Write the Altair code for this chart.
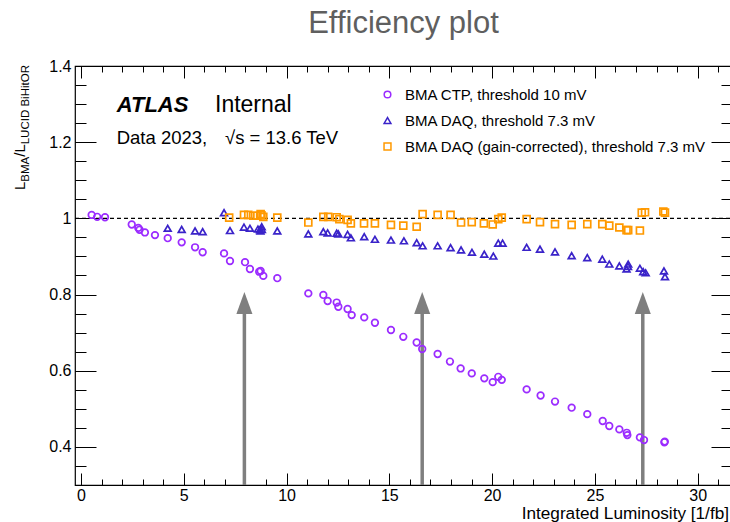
import altair as alt
import pandas as pd

# ---------------- data ----------------
series_names = [
    "BMA CTP, threshold 10 mV",
    "BMA DAQ, threshold 7.3 mV",
    "BMA DAQ (gain-corrected), threshold 7.3 mV",
]
series_colors = ["#9b2cff", "#3a23c9", "#ff9900"]
series_shapes = ["circle", "triangle-up", "square"]
series_sizes = [44, 48, 48]

ctp_x = [0.52, 0.79, 1.17, 2.47, 2.79, 2.85, 3.11, 3.60, 4.22, 4.90, 5.55, 5.92,
         6.96, 7.25, 7.98, 8.22, 8.67, 8.74, 8.87, 9.55, 11.06, 11.79, 12.00,
         12.44, 12.52, 12.97, 13.17, 13.78, 14.30, 15.08, 15.68, 16.33, 16.60,
         17.35, 17.95, 18.47, 19.01, 19.62, 20.03, 20.30, 20.47, 21.68, 22.36,
         23.06, 23.87, 24.63, 25.38, 25.70, 26.19, 26.55, 26.58, 27.19, 27.39,
         28.38, 28.40]
ctp_y = [1.009, 1.004, 1.003, 0.984, 0.975, 0.970, 0.963, 0.956, 0.948, 0.937,
         0.924, 0.911, 0.908, 0.888, 0.885, 0.867, 0.860, 0.862, 0.849, 0.843,
         0.803, 0.799, 0.783, 0.779, 0.768, 0.762, 0.746, 0.740, 0.726, 0.707,
         0.689, 0.674, 0.657, 0.644, 0.624, 0.606, 0.593, 0.580, 0.570, 0.584,
         0.576, 0.551, 0.535, 0.519, 0.503, 0.486, 0.468, 0.455, 0.446, 0.437,
         0.431, 0.425, 0.418, 0.412, 0.414]

daq_x = [4.22, 4.90, 5.55, 5.92, 6.96, 7.25, 7.93, 8.22, 8.61, 8.71, 8.79, 8.80,
         8.73, 9.55, 11.06, 11.79, 12.00, 12.44, 12.52, 12.97, 13.13, 13.78,
         14.30, 15.08, 15.71, 16.33, 16.62, 17.35, 17.98, 18.49, 19.02, 19.62,
         20.06, 20.30, 20.51, 21.68, 22.33, 23.06, 23.87, 24.63, 25.36, 25.70,
         26.19, 26.54, 26.62, 26.61, 27.19, 27.35, 27.47, 28.36, 28.41]
daq_y = [0.974, 0.971, 0.967, 0.965, 1.015, 0.968, 0.977, 0.974, 0.972, 0.970,
         0.978, 0.971, 0.967, 0.967, 0.959, 0.965, 0.962, 0.961, 0.959, 0.958,
         0.949, 0.952, 0.945, 0.943, 0.941, 0.936, 0.928, 0.928, 0.923, 0.917,
         0.911, 0.906, 0.901, 0.935, 0.935, 0.924, 0.919, 0.912, 0.902, 0.897,
         0.893, 0.880, 0.875, 0.867, 0.880, 0.874, 0.869, 0.860, 0.857, 0.862,
         0.847]

gc_x = [7.21, 7.93, 8.14, 8.38, 8.58, 8.74, 8.78, 8.87, 9.55, 11.06, 11.79,
        12.03, 12.44, 12.57, 12.97, 13.13, 13.77, 14.30, 15.08, 15.68, 16.33,
        16.62, 17.35, 17.98, 18.49, 19.01, 19.60, 20.03, 20.30, 20.47, 21.68,
        22.33, 23.06, 23.87, 24.63, 25.36, 25.70, 26.19, 26.54, 26.62, 27.19,
        27.28, 27.44, 28.33, 28.41]
gc_y = [1.002, 1.009, 1.009, 1.007, 1.007, 1.011, 1.008, 1.004, 1.002, 0.989,
        1.004, 1.004, 1.003, 0.998, 0.996, 0.987, 0.987, 0.987, 0.983, 0.981,
        0.978, 1.011, 1.009, 1.009, 0.989, 0.990, 0.987, 0.984, 0.998, 1.002,
        0.998, 0.990, 0.985, 0.983, 0.985, 0.985, 0.981, 0.976, 0.969, 0.969,
        0.968, 1.015, 1.016, 1.018, 1.015]

arrow_x = [7.95, 16.6, 27.33]
arrow_tip = 0.807
arrow_base = 0.76
y_floor = 0.3

x_domain = [-0.29, 31.67]
y_domain = [0.3, 1.4]
x_major = [0, 5, 10, 15, 20, 25, 30]
x_minor = list(range(0, 32))
y_major = [0.4, 0.6, 0.8, 1.0, 1.2, 1.4]
y_minor = [0.35, 0.4, 0.45, 0.5, 0.55, 0.6, 0.65, 0.7, 0.75, 0.8, 0.85, 0.9,
           0.95, 1.0, 1.05, 1.1, 1.15, 1.2, 1.25, 1.3, 1.35]

# ---------------- layout constants ----------------
W, H = 657, 419
FONT = "Liberation Sans"

df = pd.concat([
    pd.DataFrame({"lumi": ctp_x, "ratio": ctp_y, "series": series_names[0]}),
    pd.DataFrame({"lumi": daq_x, "ratio": daq_y, "series": series_names[1]}),
    pd.DataFrame({"lumi": gc_x, "ratio": gc_y, "series": series_names[2]}),
], ignore_index=True)

arrows = pd.DataFrame({"lumi": arrow_x,
                       "lo": [y_floor] * len(arrow_x),
                       "hi": [arrow_base] * len(arrow_x),
                       "tip": [arrow_tip] * len(arrow_x)})

xs = alt.Scale(domain=x_domain, nice=False, zero=False)
ys = alt.Scale(domain=y_domain, nice=False, zero=False)


def ax(orient, values, size, labels=False, **kw):
    return alt.Axis(orient=orient, values=values, tickSize=size, offset=-size,
                    domain=False, grid=False, labels=labels, title=None,
                    tickColor="black", tickWidth=1, **kw)


lab = dict(labelFont=FONT, labelFontSize=16, labelColor="black",
           labelFlush=False, labelOverlap=False)

legend = alt.Legend(title=None, orient="none", legendX=305, legendY=21,
                    labelFont=FONT, labelFontSize=15, labelColor="black",
                    symbolSize=26, symbolStrokeWidth=1.5, rowPadding=10,
                    labelOffset=10, padding=0, labelLimit=0)

points = alt.Chart(df).mark_point(filled=False, strokeWidth=1.7, opacity=1).encode(
    x=alt.X("lumi:Q", scale=xs,
            axis=ax("bottom", x_major, 12, labels=True, labelPadding=2, **lab)),
    y=alt.Y("ratio:Q", scale=ys,
            axis=ax("left", y_major, 21, labels=True, format="~g", labelPadding=4, **lab)),
    color=alt.Color("series:N", scale=alt.Scale(domain=series_names, range=series_colors),
                    legend=legend),
    shape=alt.Shape("series:N", scale=alt.Scale(domain=series_names, range=series_shapes),
                    legend=legend),
    size=alt.Size("series:N", scale=alt.Scale(domain=series_names, range=series_sizes),
                  legend=None),
)

ghost = alt.Chart(df).mark_point(opacity=0)
minor_bl = ghost.encode(x=alt.X("lumi:Q", scale=xs, axis=ax("bottom", x_minor, 6)),
                        y=alt.Y("ratio:Q", scale=ys, axis=ax("left", y_minor, 11)))
major_tr = ghost.encode(x=alt.X("lumi:Q", scale=xs, axis=ax("top", x_major, 12)),
                        y=alt.Y("ratio:Q", scale=ys, axis=ax("right", y_major, 21)))
minor_tr = ghost.encode(x=alt.X("lumi:Q", scale=xs, axis=ax("top", x_minor, 6)),
                        y=alt.Y("ratio:Q", scale=ys, axis=ax("right", y_minor, 11)))

unity = alt.Chart(alt.Data(values=[{}])).mark_rule(
    color="black", strokeWidth=1.4, strokeDash=[4, 3]).encode(
    x=alt.value(0), x2=alt.value(W), y=alt.Y(datum=1.0, scale=ys, axis=None))

shaft = alt.Chart(arrows).mark_rule(color="#7f7f7f", strokeWidth=3.5).encode(
    x=alt.X("lumi:Q", scale=xs, axis=None),
    y=alt.Y("lo:Q", scale=ys, axis=None), y2="hi:Q")
head = alt.Chart(arrows).mark_point(
    shape="M0,0L0.73,2L-0.73,2Z", filled=True, color="#7f7f7f", size=484,
    opacity=1).encode(
    x=alt.X("lumi:Q", scale=xs, axis=None),
    y=alt.Y("tip:Q", scale=ys, axis=None))


def txt(s, x, y, size, align="left", angle=0, color="black", **kw):
    return alt.Chart(alt.Data(values=[{}])).mark_text(
        text=s, font=FONT, fontSize=size, align=align, baseline="alphabetic",
        angle=angle, color=color, **kw).encode(x=alt.value(x), y=alt.value(y))


texts = [
    txt("Efficiency plot", 328.5, -32.7, 31, align="center", color="#5f5f5f"),
    txt("ATLAS", 41.7, 45.7, 22, fontStyle="italic", fontWeight="bold"),
    txt("Internal", 140, 45.7, 23),
    txt("Data 2023,", 41.7, 78.3, 18.5),
    txt("\u221as = 13.6 TeV", 150, 78.3, 18.5),
    txt("Integrated Luminosity [1/fb]", 654, 452.5, 17.2, align="right"),
    # rotated y-axis title with subscripts
    txt("L", -50, 124, 15, angle=270),
    txt("BMA", -46.5, 115.7, 11.5, angle=270),
    txt("/", -50, 90.8, 15, angle=270),
    txt("L", -50, 86.6, 15, angle=270),
    txt("LUCID BiHitOR", -46.5, 78.3, 11.5, angle=270),
]

chart = alt.layer(
    unity, shaft, head, minor_bl, major_tr, minor_tr, points, *texts
).resolve_axis(x="independent", y="independent").properties(
    width=W, height=H,
    autosize=alt.AutoSizeParams(type="none"),
    padding={"left": 75, "top": 66, "right": -2, "bottom": 37},
    background="white",
).configure_view(stroke="black", strokeWidth=1.2)

chart.save("out.html", embed_options={"renderer": "svg", "actions": False})
